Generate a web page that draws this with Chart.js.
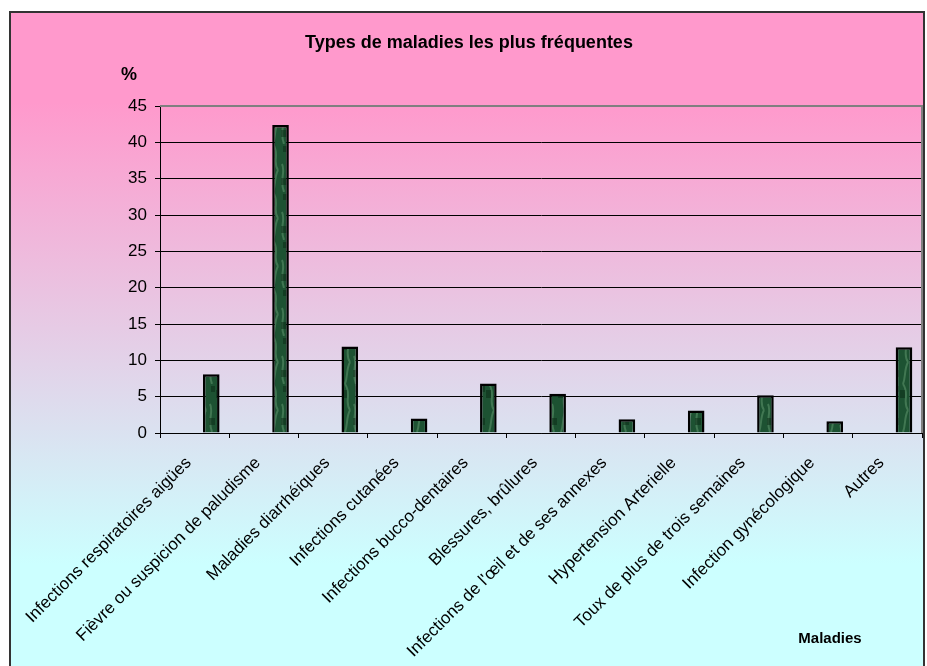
<!DOCTYPE html>
<html>
<head>
<meta charset="utf-8">
<script src="https://cdn.jsdelivr.net/npm/chart.js@4.4.0/dist/chart.umd.min.js"></script>
<style>
    html, body { margin: 0; padding: 0; background: #fff; }
    body { width: 927px; height: 666px; position: relative; overflow: hidden; font-family: "Liberation Sans", Arial, sans-serif; }
    #frame {
        position: absolute; left: 9px; top: 11px; width: 912px; height: 670px;
        border: 2px solid #333;
        background: linear-gradient(to bottom, #ff99cc 0px, #ff99cc 89px, #ccffff 551px, #ccffff 100%);
    }
    #chart { position: absolute; left: 0; top: 0; }
</style>
</head>
<body>
<div id="frame"></div>
<canvas id="chart" width="927" height="666"></canvas>
<script>
const categories = [
    'Infections respiratoires aigües',
    'Fièvre ou suspicion de paludisme',
    'Maladies diarrhéiques',
    'Infections cutanées',
    'Infections bucco-dentaires',
    'Blessures, brûlures',
    "Infections de l'œil et de ses annexes",
    'Hypertension Arterielle',
    'Toux de plus de trois semaines',
    'Infection gynécologique',
    'Autres'
];

const percentages = [8.1, 42.4, 11.9, 2.0, 6.8, 5.4, 1.9, 3.1, 5.2, 1.6, 11.8];

const yTicks = [0, 5, 10, 15, 20, 25, 30, 35, 40, 45];

// the original sheet has two empty series before the one shown
const emptySeries = categories.map(() => null);

// marbled green fill like the old office texture
function marbleFill() {
    const c = document.createElement('canvas');
    c.width = 18;
    c.height = 48;
    const g = c.getContext('2d');
    g.fillStyle = '#1d5232';
    g.fillRect(0, 0, 18, 48);
    g.strokeStyle = 'rgba(95, 150, 110, 0.55)';
    g.lineWidth = 2;
    g.beginPath();
    g.moveTo(3, 0); g.bezierCurveTo(10, 10, 2, 18, 8, 26);
    g.moveTo(12, 20); g.bezierCurveTo(16, 28, 9, 36, 14, 48);
    g.moveTo(8, 26); g.bezierCurveTo(4, 34, 6, 40, 3, 48);
    g.stroke();
    g.fillStyle = 'rgba(10, 40, 20, 0.5)';
    g.fillRect(0, 6, 5, 8);
    g.fillRect(11, 34, 6, 7);
    g.fillRect(13, 2, 4, 6);
    return g.createPattern(c, 'repeat');
}

const textPlugin = {
    id: 'texts',
    afterDraw(chart) {
        const ctx = chart.ctx;
        ctx.save();
        ctx.fillStyle = '#000';
        ctx.textAlign = 'center';
        ctx.textBaseline = 'middle';
        ctx.font = 'bold 18px "Liberation Sans", Arial, sans-serif';
        ctx.fillText('Types de maladies les plus fréquentes', 469, 43);
        ctx.fillText('%', 129, 75);
        ctx.font = 'bold 15px "Liberation Sans", Arial, sans-serif';
        ctx.fillText('Maladies', 830, 639);
        ctx.restore();
    },
    beforeDatasetsDraw(chart) {
        const { ctx, chartArea } = chart;
        ctx.save();
        ctx.strokeStyle = '#808080';
        ctx.lineWidth = 2;
        ctx.beginPath();
        ctx.moveTo(chartArea.left, chartArea.top);
        ctx.lineTo(chartArea.right, chartArea.top);
        ctx.lineTo(chartArea.right, chartArea.bottom);
        ctx.stroke();
        ctx.restore();
    }
};

new Chart(document.getElementById('chart'), {
    type: 'bar',
    data: {
        labels: categories,
        datasets: [
            { label: '', data: emptySeries },
            { label: '', data: emptySeries },
            {
                label: 'Maladies',
                data: percentages,
                backgroundColor: marbleFill(),
                borderColor: '#000',
                borderWidth: 2.5
            }
        ]
    },
    options: {
        responsive: false,
        animation: false,
        layout: { padding: { left: 0, right: 5, top: 106, bottom: 0 } },
        categoryPercentage: 0.72,
        barPercentage: 1,
        plugins: {
            legend: { display: false },
            tooltip: { enabled: false }
        },
        scales: {
            x: {
                afterFit(scale) { scale.height = 233; },
                grid: {
                    offset: true,
                    drawOnChartArea: false,
                    color: '#000',
                    tickLength: 5
                },
                border: { color: '#000', width: 1 },
                ticks: {
                    color: '#000',
                    minRotation: 45,
                    maxRotation: 45,
                    autoSkip: false,
                    padding: 15,
                    labelOffset: -6,
                    font: { family: '"Liberation Sans", Arial, sans-serif', size: 17 }
                }
            },
            y: {
                min: 0,
                max: 45,
                afterFit(scale) { scale.width = 160; },
                afterBuildTicks(scale) { scale.ticks = yTicks.map(v => ({ value: v })); },
                grid: {
                    color: '#000',
                    lineWidth: 1,
                    tickLength: 5
                },
                border: { color: '#000', width: 1 },
                ticks: {
                    color: '#000',
                    padding: 8,
                    font: { family: '"Liberation Sans", Arial, sans-serif', size: 17 }
                }
            }
        }
    },
    plugins: [textPlugin]
});
</script>
</body>
</html>
